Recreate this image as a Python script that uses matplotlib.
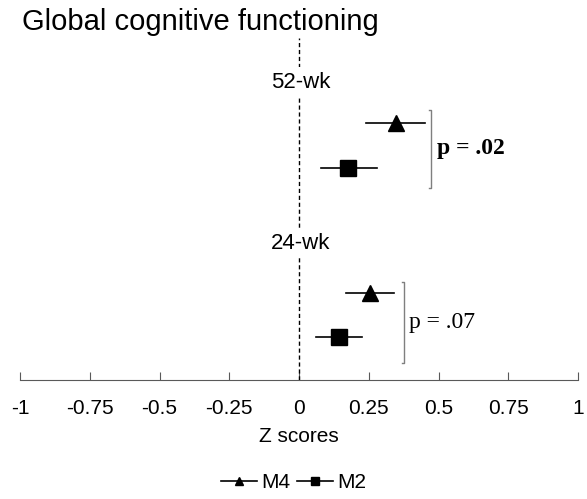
import matplotlib

matplotlib.use("Agg")
import matplotlib.pyplot as plt
from matplotlib.lines import Line2D

# values (Z scores)
groups = ["52-wk", "24-wk"]
m4_mean = [0.348, 0.254]
m4_low = [0.24, 0.168]
m4_high = [0.45, 0.34]
m2_mean = [0.176, 0.143]
m2_low = [0.078, 0.06]
m2_high = [0.28, 0.226]
p_labels = ["p = .02", "p = .07"]
p_bold = [True, False]
xticks = [-1, -0.75, -0.5, -0.25, 0, 0.25, 0.5, 0.75, 1]
xtick_labels = ["-1", "-0.75", "-0.5", "-0.25", "0", "0.25", "0.5", "0.75", "1"]

# vertical layout (data units)
m4_y = [6.95, 2.35]
m2_y = [5.73, 1.16]
label_y = [8.05, 3.7]
bracket_x = [0.473, 0.376]
bracket_lo = [5.2, 0.45]
bracket_hi = [7.3, 2.65]
ref_top = 9.24

plt.rcParams["font.family"] = ["Liberation Sans", "DejaVu Sans"]

fig = plt.figure(figsize=(5.87, 4.99), dpi=100)
ax = fig.add_axes([20 / 587, 119 / 499, 558 / 587, 370 / 499])
ax.set_xlim(-1, 1)
ax.set_ylim(0, 10)

ax.vlines(0, 0, ref_top, color="black", linestyle=(0, (3, 2)), linewidth=1)

for i, g in enumerate(groups):
    ax.plot([m4_low[i], m4_high[i]], [m4_y[i]] * 2, color="black", linewidth=1.2)
    ax.plot(m4_mean[i], m4_y[i], marker="^", color="black", markersize=11)
    ax.plot([m2_low[i], m2_high[i]], [m2_y[i]] * 2, color="black", linewidth=1.2)
    ax.plot(m2_mean[i], m2_y[i], marker="s", color="black", markersize=11)
    ax.text(0.005, label_y[i], g, ha="center", va="center", fontsize=16,
            bbox=dict(facecolor="white", edgecolor="none", pad=3))
    bx = bracket_x[i]
    ax.plot([bx - 0.008, bx, bx, bx - 0.008],
            [bracket_lo[i], bracket_lo[i], bracket_hi[i], bracket_hi[i]],
            color="#7f7f7f", linewidth=1)
    ax.text(bx + 0.02, (bracket_lo[i] + bracket_hi[i]) / 2, p_labels[i],
            ha="left", va="center", fontsize=17, family=["Liberation Serif"],
            fontweight="bold" if p_bold[i] else "normal")

for side in ["left", "right", "top"]:
    ax.spines[side].set_visible(False)
ax.spines["bottom"].set_color("#595959")
ax.set_yticks([])
ax.set_xticks(xticks)
ax.set_xticklabels(xtick_labels, fontsize=15)
ax.tick_params(axis="x", direction="in", length=6, color="#595959", pad=14)
ax.set_xlabel("Z scores", fontsize=15, labelpad=6)

fig.text(22 / 587, 1 - 22 / 499, "Global cognitive functioning", fontsize=21,
         ha="left", va="center")

handles = [
    Line2D([], [], color="black", marker="^", markersize=6, linewidth=1.2),
    Line2D([], [], color="black", marker="s", markersize=6, linewidth=1.2),
]
fig.legend(handles, ["M4", "M2"], loc="center", bbox_to_anchor=(0.5, 1 - 483 / 499),
           ncol=2, frameon=False, fontsize=15, handlelength=1.75, handletextpad=0.2,
           columnspacing=0.3)

fig.savefig("out.png", dpi=100)
